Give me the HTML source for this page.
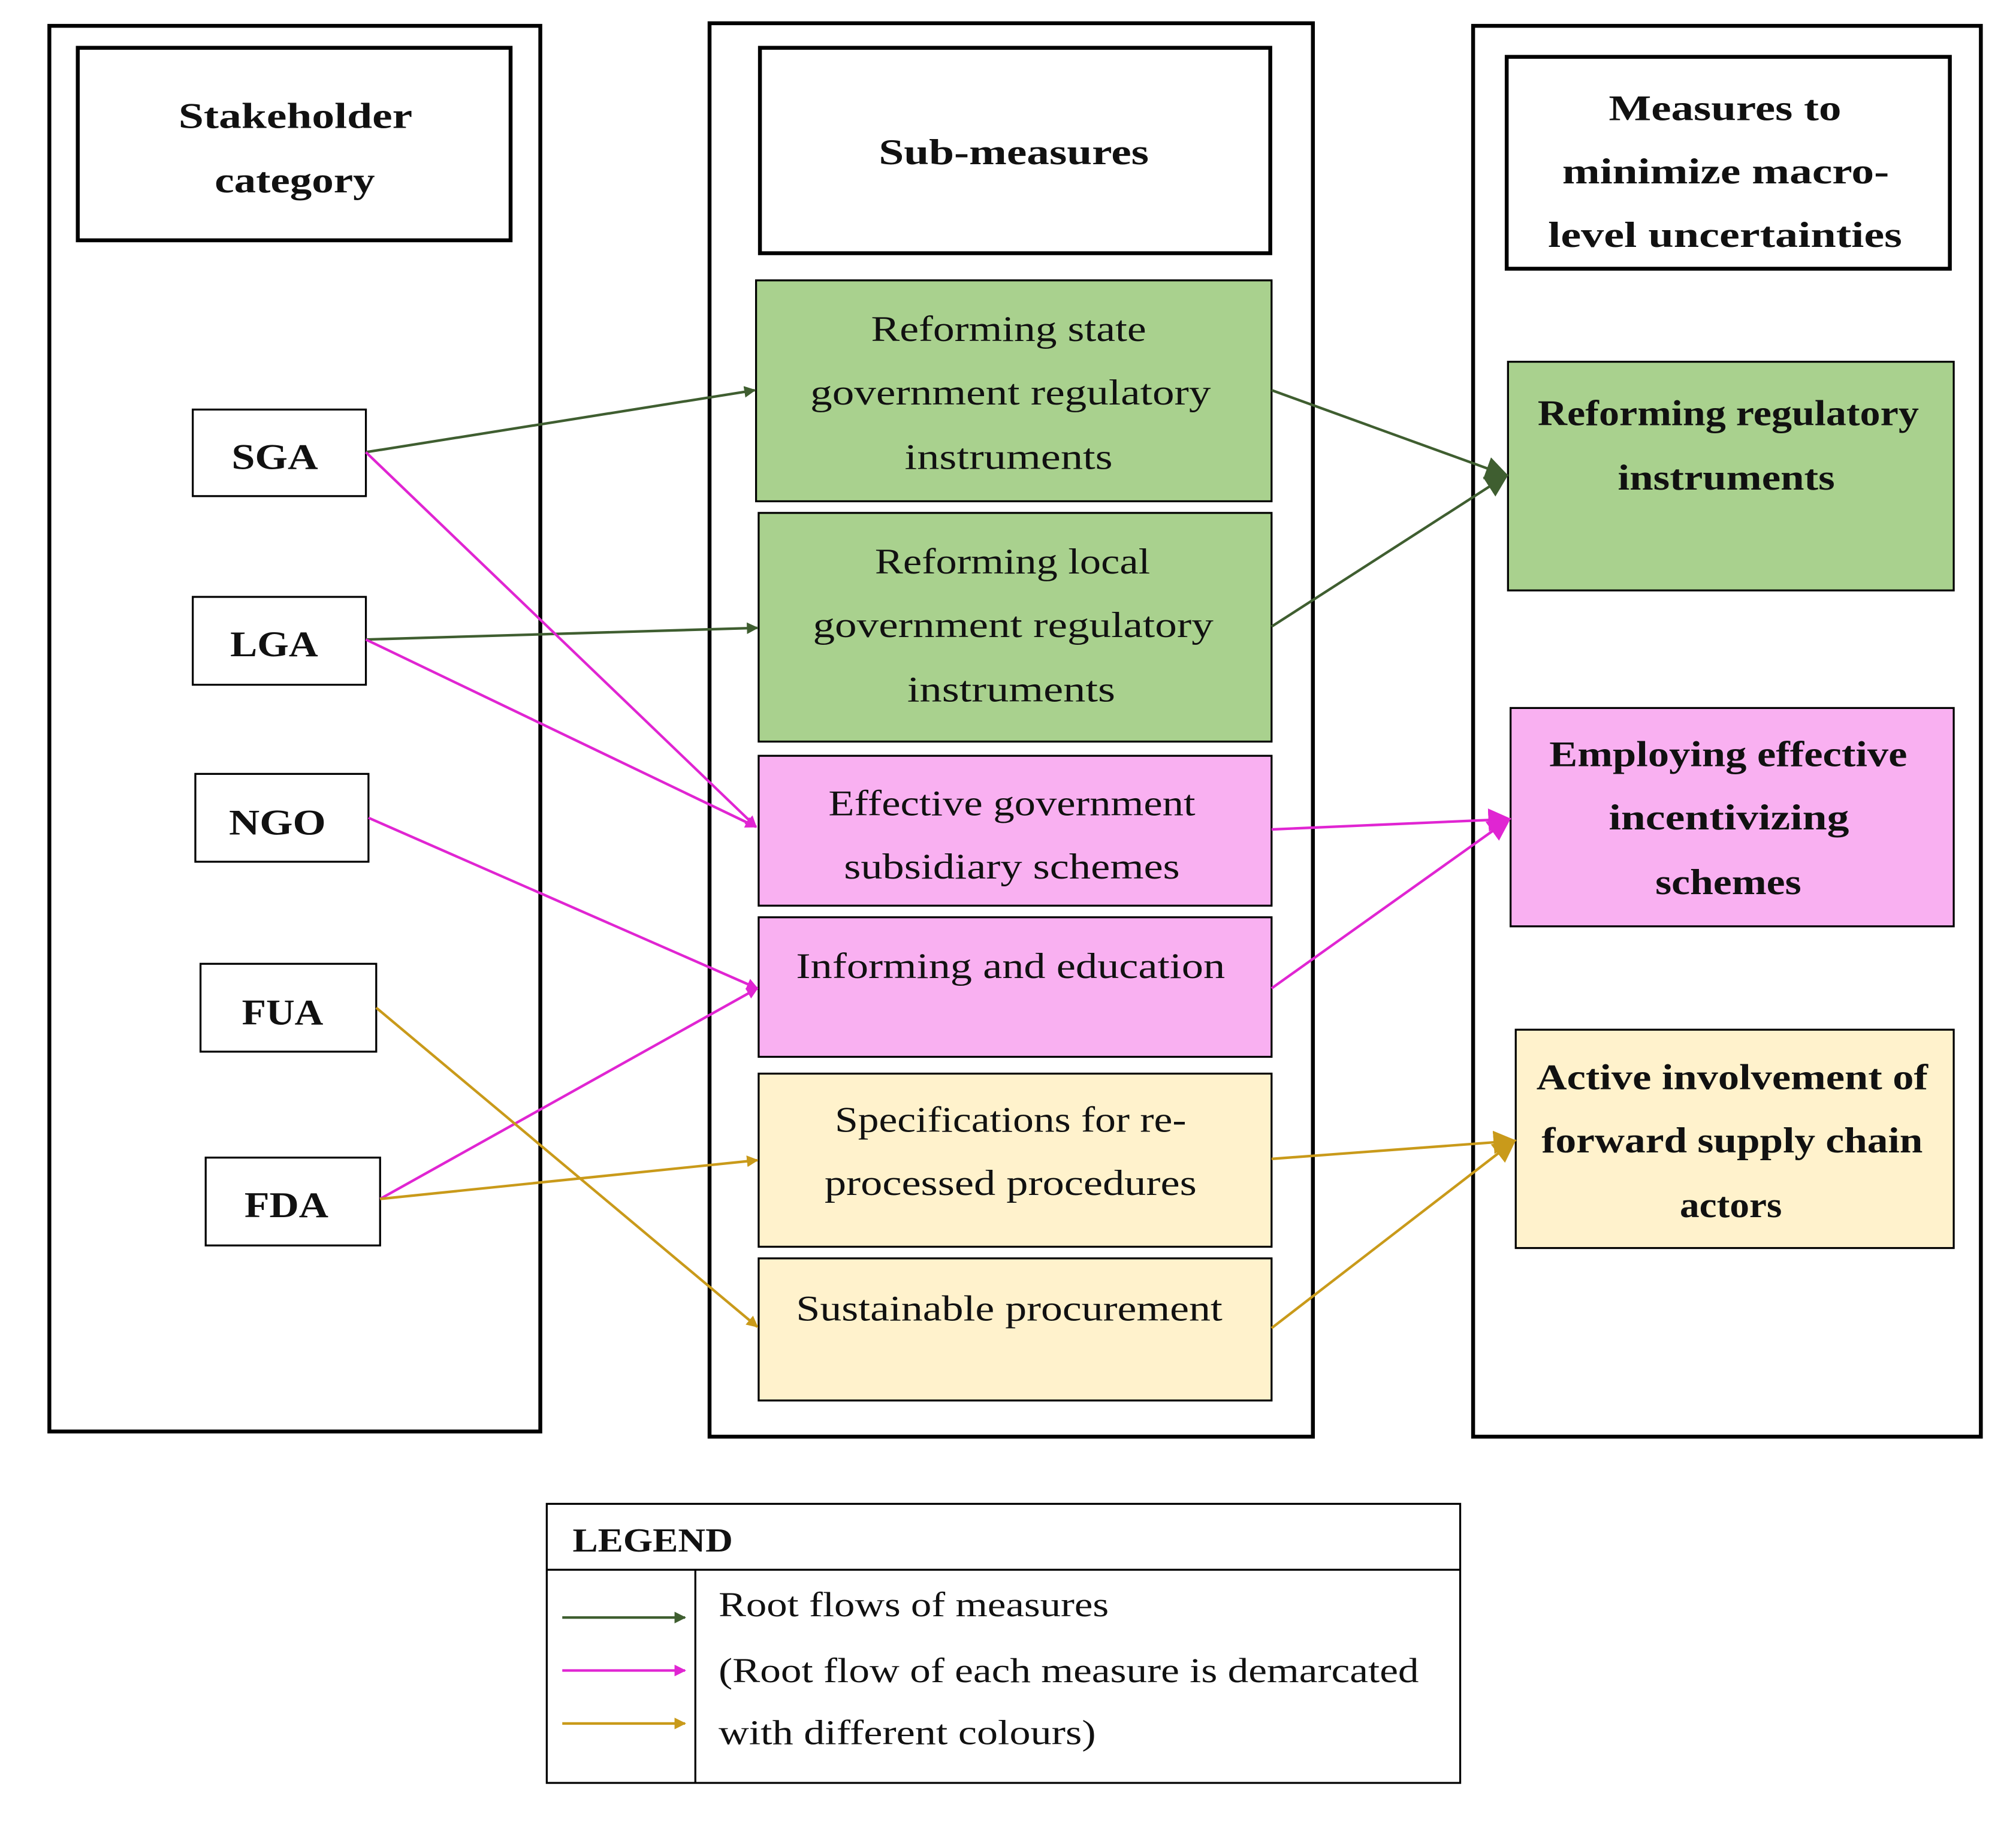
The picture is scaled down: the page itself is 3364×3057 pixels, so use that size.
<!DOCTYPE html>
<html><head><meta charset="utf-8"><style>
html,body{margin:0;padding:0;background:#fff;}
svg{display:block;}
text{font-family:"Liberation Serif",serif;fill:#111;}
</style></head><body>
<svg width="3364" height="3057" viewBox="0 0 1560 1418" xmlns="http://www.w3.org/2000/svg">
<defs>
<marker id="ag" viewBox="0 0 10 10" refX="9" refY="5" markerWidth="9" markerHeight="9" orient="auto" markerUnits="userSpaceOnUse"><path d="M0,0 L10,5 L0,10 z" fill="#3f5e30"/></marker>
<marker id="ap" viewBox="0 0 10 10" refX="9" refY="5" markerWidth="9" markerHeight="9" orient="auto" markerUnits="userSpaceOnUse"><path d="M0,0 L10,5 L0,10 z" fill="#e025d2"/></marker>
<marker id="ay" viewBox="0 0 10 10" refX="9" refY="5" markerWidth="9" markerHeight="9" orient="auto" markerUnits="userSpaceOnUse"><path d="M0,0 L10,5 L0,10 z" fill="#c99a1a"/></marker>
<marker id="agb" viewBox="0 0 10 10" refX="9" refY="5" markerWidth="18" markerHeight="18" orient="auto" markerUnits="userSpaceOnUse"><path d="M0,0 L10,5 L0,10 z" fill="#3f5e30"/></marker>
<marker id="apb" viewBox="0 0 10 10" refX="9" refY="5" markerWidth="18" markerHeight="18" orient="auto" markerUnits="userSpaceOnUse"><path d="M0,0 L10,5 L0,10 z" fill="#e025d2"/></marker>
<marker id="ayb" viewBox="0 0 10 10" refX="9" refY="5" markerWidth="18" markerHeight="18" orient="auto" markerUnits="userSpaceOnUse"><path d="M0,0 L10,5 L0,10 z" fill="#c99a1a"/></marker>
</defs>
<g fill="none" stroke="#000" stroke-width="3">
<rect x="38" y="20" width="380" height="1088"/>
<rect x="549" y="18" width="467" height="1094"/>
<rect x="1140" y="20" width="393" height="1092"/>
<rect x="60" y="37" width="335" height="149"/>
<rect x="588" y="37" width="395" height="159"/>
<rect x="1166" y="44" width="343" height="164"/>
</g>
<g stroke="#000" stroke-width="1.5">
<rect x="149" y="317" width="134" height="67" fill="#fff"/>
<rect x="149" y="462" width="134" height="68" fill="#fff"/>
<rect x="151" y="599" width="134" height="68" fill="#fff"/>
<rect x="155" y="746" width="136" height="68" fill="#fff"/>
<rect x="159" y="896" width="135" height="68" fill="#fff"/>
<rect x="585" y="217" width="399" height="171" fill="#a9d18e"/>
<rect x="587" y="397" width="397" height="177" fill="#a9d18e"/>
<rect x="587" y="585" width="397" height="116" fill="#f9b0f1"/>
<rect x="587" y="710" width="397" height="108" fill="#f9b0f1"/>
<rect x="587" y="831" width="397" height="134" fill="#fff2cc"/>
<rect x="587" y="974" width="397" height="110" fill="#fff2cc"/>
<rect x="1167" y="280" width="345" height="177" fill="#a9d18e"/>
<rect x="1169" y="548" width="343" height="169" fill="#f9b0f1"/>
<rect x="1173" y="797" width="339" height="169" fill="#fff2cc"/>
<rect x="423" y="1164" width="707" height="216" fill="none"/>
<line x1="423" y1="1215" x2="1130" y2="1215"/>
<line x1="538" y1="1215" x2="538" y2="1380"/>
</g>
<g stroke-width="2" fill="none">
<line x1="283" y1="350" x2="584" y2="302" stroke="#3f5e30" marker-end="url(#ag)"/>
<line x1="283" y1="495" x2="586" y2="486" stroke="#3f5e30" marker-end="url(#ag)"/>
<line x1="283" y1="350" x2="585" y2="640" stroke="#e025d2" marker-end="url(#ap)"/>
<line x1="283" y1="495" x2="585" y2="640" stroke="#e025d2" marker-end="url(#ap)"/>
<line x1="285" y1="633" x2="586" y2="765" stroke="#e025d2" marker-end="url(#ap)"/>
<line x1="294" y1="928" x2="586" y2="765" stroke="#e025d2" marker-end="url(#ap)"/>
<line x1="291" y1="780" x2="586" y2="1027" stroke="#c99a1a" marker-end="url(#ay)"/>
<line x1="294" y1="928" x2="586" y2="898" stroke="#c99a1a" marker-end="url(#ay)"/>
<line x1="984" y1="302" x2="1166" y2="368" stroke="#3f5e30" marker-end="url(#agb)"/>
<line x1="984" y1="485" x2="1166" y2="368" stroke="#3f5e30" marker-end="url(#agb)"/>
<line x1="984" y1="642" x2="1168" y2="634" stroke="#e025d2" marker-end="url(#apb)"/>
<line x1="984" y1="765" x2="1168" y2="634" stroke="#e025d2" marker-end="url(#apb)"/>
<line x1="984" y1="897" x2="1172" y2="883" stroke="#c99a1a" marker-end="url(#ayb)"/>
<line x1="984" y1="1028" x2="1172" y2="883" stroke="#c99a1a" marker-end="url(#ayb)"/>
<line x1="435" y1="1252" x2="530" y2="1252" stroke="#3f5e30" marker-end="url(#ag)"/>
<line x1="435" y1="1293" x2="530" y2="1293" stroke="#e025d2" marker-end="url(#ap)"/>
<line x1="435" y1="1334" x2="530" y2="1334" stroke="#c99a1a" marker-end="url(#ay)"/>
</g>
<g font-size="28" font-weight="bold" lengthAdjust="spacingAndGlyphs">
<text x="138" y="99" textLength="181" lengthAdjust="spacingAndGlyphs">Stakeholder</text>
<text x="166" y="149" textLength="124" lengthAdjust="spacingAndGlyphs">category</text>
<text x="680" y="127" textLength="209" lengthAdjust="spacingAndGlyphs">Sub-measures</text>
<text x="1245" y="93" textLength="180" lengthAdjust="spacingAndGlyphs">Measures to</text>
<text x="1209" y="142" textLength="253" lengthAdjust="spacingAndGlyphs">minimize macro-</text>
<text x="1198" y="191" textLength="274" lengthAdjust="spacingAndGlyphs">level uncertainties</text>
<text x="179" y="363" textLength="67" lengthAdjust="spacingAndGlyphs">SGA</text>
<text x="178" y="508" textLength="68" lengthAdjust="spacingAndGlyphs">LGA</text>
<text x="177" y="646" textLength="75" lengthAdjust="spacingAndGlyphs">NGO</text>
<text x="187" y="793" textLength="63" lengthAdjust="spacingAndGlyphs">FUA</text>
<text x="189" y="942" textLength="65" lengthAdjust="spacingAndGlyphs">FDA</text>
<text x="1190" y="329" textLength="295" lengthAdjust="spacingAndGlyphs">Reforming regulatory</text>
<text x="1252" y="379" textLength="168" lengthAdjust="spacingAndGlyphs">instruments</text>
<text x="1199" y="593" textLength="277" lengthAdjust="spacingAndGlyphs">Employing effective</text>
<text x="1245" y="642" textLength="186" lengthAdjust="spacingAndGlyphs">incentivizing</text>
<text x="1281" y="692" textLength="113" lengthAdjust="spacingAndGlyphs">schemes</text>
<text x="1189" y="843" textLength="303" lengthAdjust="spacingAndGlyphs">Active involvement of</text>
<text x="1193" y="892" textLength="295" lengthAdjust="spacingAndGlyphs">forward supply chain</text>
<text x="1300" y="942" textLength="79" lengthAdjust="spacingAndGlyphs">actors</text>
</g>
<g font-size="28">
<text x="674" y="264" textLength="213" lengthAdjust="spacingAndGlyphs">Reforming state</text>
<text x="627" y="313" textLength="310" lengthAdjust="spacingAndGlyphs">government regulatory</text>
<text x="700" y="363" textLength="161" lengthAdjust="spacingAndGlyphs">instruments</text>
<text x="677" y="444" textLength="213" lengthAdjust="spacingAndGlyphs">Reforming local</text>
<text x="629" y="493" textLength="310" lengthAdjust="spacingAndGlyphs">government regulatory</text>
<text x="702" y="543" textLength="161" lengthAdjust="spacingAndGlyphs">instruments</text>
<text x="641" y="631" textLength="284" lengthAdjust="spacingAndGlyphs">Effective government</text>
<text x="653" y="680" textLength="260" lengthAdjust="spacingAndGlyphs">subsidiary schemes</text>
<text x="616" y="757" textLength="332" lengthAdjust="spacingAndGlyphs">Informing and education</text>
<text x="646" y="876" textLength="272" lengthAdjust="spacingAndGlyphs">Specifications for re-</text>
<text x="638" y="925" textLength="288" lengthAdjust="spacingAndGlyphs">processed procedures</text>
<text x="616" y="1022" textLength="330" lengthAdjust="spacingAndGlyphs">Sustainable procurement</text>
</g>
<text x="443" y="1201" font-size="26" font-weight="bold" textLength="124" lengthAdjust="spacingAndGlyphs">LEGEND</text>
<g font-size="27">
<text x="556" y="1251" textLength="302" lengthAdjust="spacingAndGlyphs">Root flows of measures</text>
<text x="556" y="1302" textLength="542" lengthAdjust="spacingAndGlyphs">(Root flow of each measure is demarcated</text>
<text x="556" y="1350" textLength="292" lengthAdjust="spacingAndGlyphs">with different colours)</text>
</g>
</svg>
</body></html>
